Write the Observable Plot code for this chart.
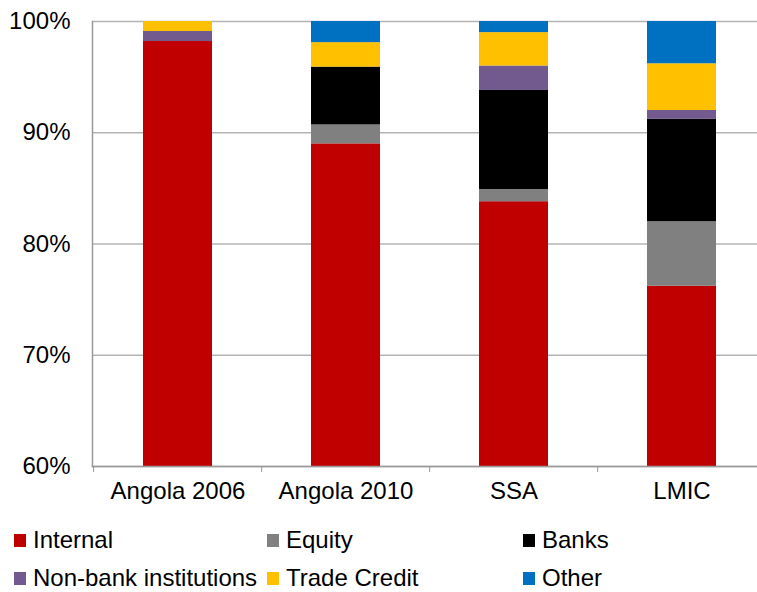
<!DOCTYPE html>
<html>
<head>
<meta charset="utf-8">
<script src="https://cdn.jsdelivr.net/npm/d3@7"></script>
<script src="https://cdn.jsdelivr.net/npm/@observablehq/plot@0.6"></script>
<style>
  body { margin: 0; background: #fff; font-family: "Liberation Sans", Arial, sans-serif; overflow: hidden; }
  #chart svg { display: block; }
  #legend { position: relative; width: 757px; height: 77px; font-size: 24px; line-height: 20px; color: #000; }
  .item { position: absolute; display: flex; align-items: center; height: 20px; white-space: nowrap; }
  .sw { width: 12px; height: 13px; margin-right: 7px; flex: none; }
</style>
</head>
<body>
<div id="chart"></div>
<div id="legend"></div>
<script>
const categories = ["Angola 2006", "Angola 2010", "SSA", "LMIC"];
const seriesNames = ["Internal", "Equity", "Banks", "Non-bank institutions", "Trade Credit", "Other"];
const colors = ["#C00000", "#808080", "#000000", "#725A8E", "#FFC000", "#0070C0"];
const internal = [98.2, 89.0, 83.8, 76.2];
const equity   = [0.0, 1.7, 1.1, 5.8];
const banks    = [0.0, 5.2, 8.9, 9.2];
const nonbank  = [0.9, 0.0, 2.2, 0.8];
const trade    = [0.9, 2.2, 3.0, 4.2];
const other    = [0.0, 1.9, 1.0, 3.8];
const yTicks = [60, 70, 80, 90, 100];

const seriesValues = [internal, equity, banks, nonbank, trade, other];
const rows = [];
seriesNames.forEach((s, i) => {
  categories.forEach((c, j) => rows.push({category: c, series: s, value: seriesValues[i][j]}));
});

const chart = Plot.plot({
  width: 757,
  height: 515,
  marginTop: 21,
  marginBottom: 49,
  marginLeft: 92,
  marginRight: 0,
  style: {fontFamily: "'Liberation Sans', Arial, sans-serif", fontSize: "24px", color: "#000", background: "#fff"},
  x: {domain: categories, range: [92, 767], paddingInner: 0.59, paddingOuter: 0.295, label: null},
  y: {domain: [60, 100], label: null},
  color: {domain: seriesNames, range: colors},
  marks: [
    Plot.gridY(yTicks, {stroke: "#b4b4b4", strokeOpacity: 1, strokeWidth: 1.5}),
    Plot.barY(rows, {x: "category", y: "value", fill: "series", order: null, clip: true}),
    Plot.ruleX(categories, {x: d => d, dx: -84.4, y1: 60, y2: 60, insetBottom: -6, stroke: "#999"}),
    Plot.frame({anchor: "left", stroke: "#999", strokeWidth: 1.5}),
    Plot.frame({anchor: "bottom", stroke: "#999", strokeWidth: 1.5}),
    Plot.axisY({ticks: yTicks, tickFormat: d => d + "%", tickSize: 0, tickPadding: 22, fontSize: 24}),
    Plot.axisX({tickSize: 0, tickPadding: 15, fontSize: 24})
  ]
});
document.getElementById("chart").appendChild(chart);

const legend = document.getElementById("legend");
const pos = [[14, 15], [267, 15], [523, 15], [14, 53], [267, 53], [523, 53]];
seriesNames.forEach((s, i) => {
  const it = document.createElement("div");
  it.className = "item";
  it.style.left = pos[i][0] + "px";
  it.style.top = pos[i][1] + "px";
  const sw = document.createElement("span");
  sw.className = "sw";
  sw.style.background = colors[i];
  it.appendChild(sw);
  it.appendChild(document.createTextNode(s));
  legend.appendChild(it);
});
</script>
</body>
</html>
